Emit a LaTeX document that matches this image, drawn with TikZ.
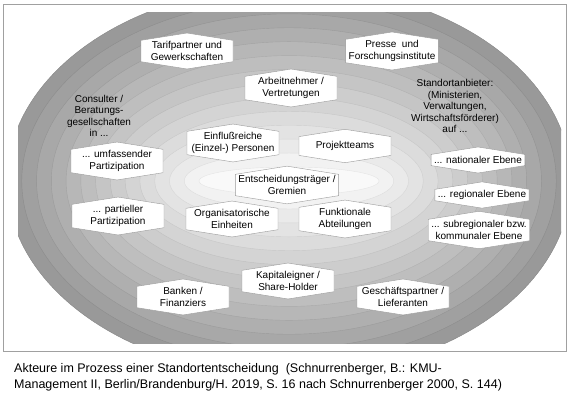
\documentclass[tikz,border=0pt]{standalone}
\usepackage{fontspec}
\setmainfont{Liberation Sans}
\usepackage{tikz}
\usetikzlibrary{shapes.symbols}
\usepackage{xcolor}
\definecolor{framegray}{HTML}{A0A0A0}
\definecolor{hexline}{HTML}{9A9A9A}

\begin{document}
\begin{tikzpicture}[x=1pt, y=-1pt,
    hexbox/.style={draw=hexline, fill=white, signal, signal to=north and south,
                   signal pointer angle=162, minimum width=92pt, minimum height=23pt,
                   inner xsep=3pt, inner ysep=1pt, align=center,
                   font=\fontsize{10}{12}\selectfont},
    plain/.style={align=center, font=\fontsize{10}{11.5}\selectfont}
  ]
    \useasboundingbox (0,0) rectangle (570,400);
    \fill[white] (0,0) rectangle (570,400);
    % rings, lighter towards the centre
    \begin{scope}
      \clip (18,12) rectangle (561,343);
      \foreach \i in {0,...,13} {
        \pgfmathsetmacro\ra{282-14.77*\i}
        \pgfmathsetmacro\rb{195-13.92*\i}
        \pgfmathsetmacro\lvl{40-2.9*\i}
        \pgfmathsetmacro\edg{\lvl+8}
        \filldraw[fill=black!\lvl, draw=black!\edg, line width=0.4pt]
          (289,181) ellipse [x radius=\ra pt, y radius=\rb pt];
      }
    \end{scope}
    \draw[framegray, line width=1pt] (3.5,4.5) rectangle (566,351);

    \node[hexbox] (tarif) at (187,51) {Tarifpartner und\\Gewerkschaften};
    \node[hexbox] (presse) at (392,51) {Presse\ \ und\\Forschungsinstitute};
    \node[hexbox] (arbeitn) at (291,88) {Arbeitnehmer /\\Vertretungen};
    \node[plain] (consult) at (99,116) {Consulter /\\Beratungs-\\gesellschaften\\in ...};
    \node[plain] (anbieter) at (455,106)
      {Standortanbieter:\\(Ministerien,\\Verwaltungen,\\Wirtschaftsförderer)\\auf ...};
    \node[hexbox] (einfluss) at (233,143) {Einflußreiche\\(Einzel-) Personen};
    \node[hexbox, minimum height=29pt] (projekt) at (345,146) {Projektteams};
    \node[hexbox, minimum height=26pt] (umfass) at (117,161) {... umfassender\\Partizipation};
    \node[hexbox, minimum height=26pt] (national) at (478,160) {... nationaler Ebene};
    \node[hexbox] (gremien) at (287,185) {Entscheidungsträger /\\Gremien};
    \node[hexbox] (regional) at (482,195) {... regionaler Ebene};
    \node[hexbox] (partiell) at (118,216) {... partieller\\Partizipation};
    \node[hexbox] (orga) at (232,219) {Organisatorische\\Einheiten};
    \node[hexbox] (funktion) at (345,219) {Funktionale\\Abteilungen};
    \node[hexbox] (subreg) at (479,230) {... subregionaler bzw.\\kommunaler Ebene};
    \node[hexbox] (kapital) at (288,281) {Kapitaleigner /\\Share-Holder};
    \node[hexbox] (banken) at (183,297) {Banken /\\Finanziers};
    \node[hexbox] (geschaeft) at (403,297) {Geschäftspartner /\\Lieferanten};

    \node[anchor=base west, inner sep=0pt, align=left,
          font=\fontsize{12.5}{16}\selectfont] (caption) at (14,388)
      {Akteure im Prozess einer Standortentscheidung\ \ (Schnurrenberger, B.: KMU-\\
       Management II, Berlin/Brandenburg/H. 2019, S. 16 nach Schnurrenberger 2000, S. 144)};
\end{tikzpicture}
\end{document}
